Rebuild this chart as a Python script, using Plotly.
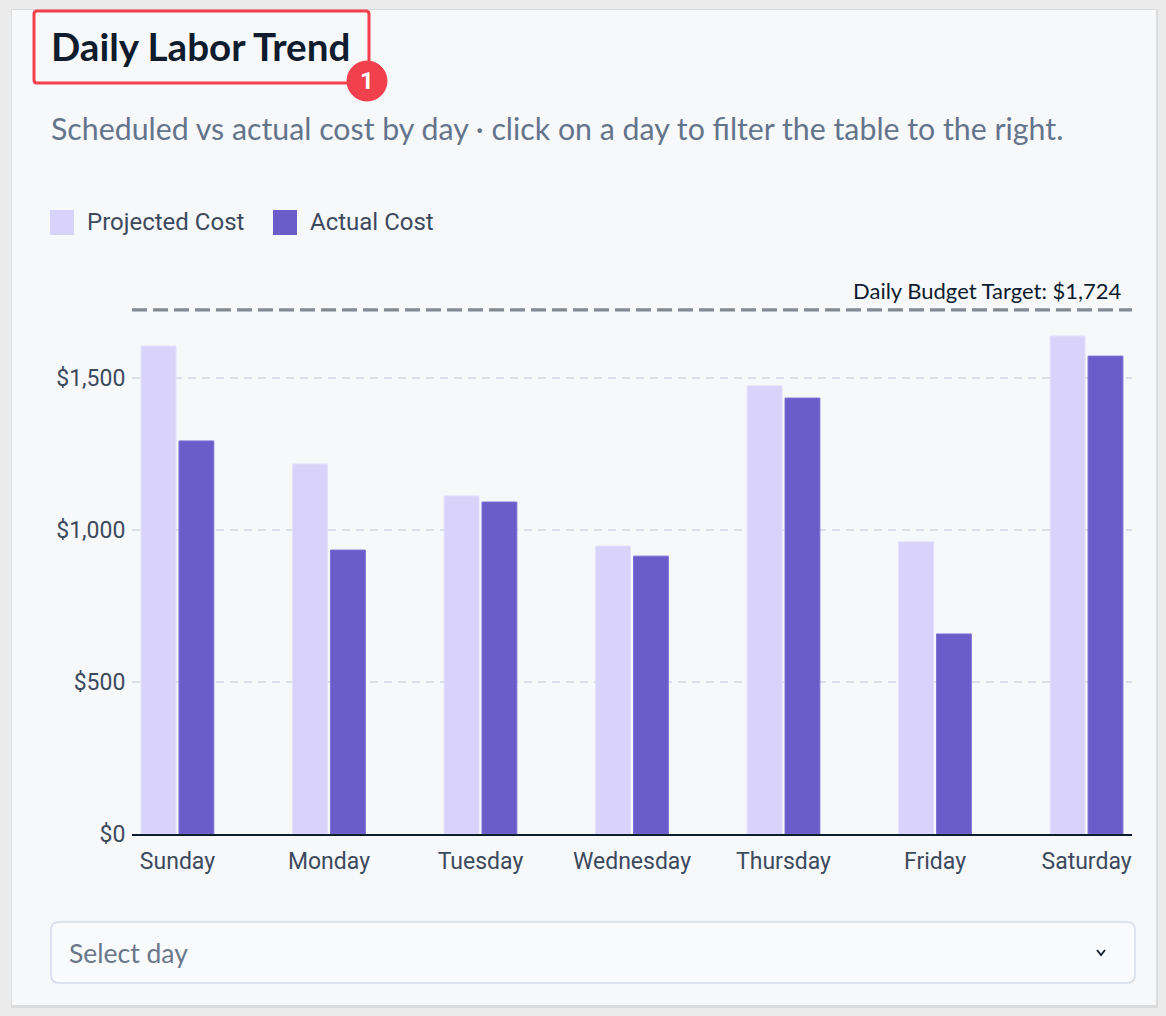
import plotly.graph_objects as go

# ---- data ----
days = ["Sunday", "Monday", "Tuesday", "Wednesday", "Thursday", "Friday", "Saturday"]
projected_cost = [1605, 1217, 1112, 947, 1474, 961, 1638]
actual_cost = [1293, 934, 1092, 914, 1434, 658, 1572]
budget_target = 1724
y_ticks = [0, 500, 1000, 1500]

# ---- page geometry (pixels) ----
FIG_W, FIG_H = 1166, 1016
PLOT_L, PLOT_R = 132, 1132
PLOT_T, PLOT_B = 272, 834
PW, PH = PLOT_R - PLOT_L, PLOT_B - PLOT_T

PROJ_COLOR = "#d9d2fb"
ACT_COLOR = "#6c5cc9"
TEXT_DARK = "#0f1c2e"
TEXT_MUTED = "#64748b"
TICK_COLOR = "#3d4a5e"


def px(x):
    return (x - PLOT_L) / PW


def py(y):
    return (PLOT_B - y) / PH


def rounded_rect(x0, y0, x1, y1, r):
    """SVG path (paper coords) for a rounded rectangle given in pixels."""
    pts = [
        ("M", [(x0 + r, y0)]),
        ("L", [(x1 - r, y0)]),
        ("Q", [(x1, y0), (x1, y0 + r)]),
        ("L", [(x1, y1 - r)]),
        ("Q", [(x1, y1), (x1 - r, y1)]),
        ("L", [(x0 + r, y1)]),
        ("Q", [(x0, y1), (x0, y1 - r)]),
        ("L", [(x0, y0 + r)]),
        ("Q", [(x0, y0), (x0 + r, y0)]),
    ]
    out = ""
    for cmd, coords in pts:
        out += cmd + " " + " ".join(f"{px(a):.5f},{py(b):.5f}" for a, b in coords) + " "
    return out + "Z"


fig = go.Figure()

fig.add_trace(go.Bar(
    x=days, y=projected_cost, name="Projected Cost",
    marker=dict(color=PROJ_COLOR, line=dict(color="#e4defc", width=1)),
    showlegend=False,
))
fig.add_trace(go.Bar(
    x=days, y=actual_cost, name="Actual Cost",
    marker=dict(color=ACT_COLOR, line=dict(color="#7d6fd6", width=1)),
    showlegend=False,
))

shapes = []
# page shadow + card
shapes.append(dict(type="rect", xref="paper", yref="paper", layer="below",
                   x0=px(11), x1=px(1158), y0=py(1008), y1=py(9),
                   fillcolor="#dcdcdc", line=dict(width=0)))
shapes.append(dict(type="rect", xref="paper", yref="paper", layer="below",
                   x0=px(12), x1=px(1156), y0=py(1005), y1=py(10),
                   fillcolor="#f7f8fa", line=dict(width=0)))

# budget target line
shapes.append(dict(type="line", xref="paper", yref="y", x0=0, x1=1,
                   y0=budget_target, y1=budget_target,
                   line=dict(color="#838a94", width=3.2, dash="15px,6px")))

# highlight box around the title + badge
shapes.append(dict(type="path", xref="paper", yref="paper",
                   path=rounded_rect(34, 11, 369, 83, 3),
                   line=dict(color="#f2404d", width=3)))
shapes.append(dict(type="circle", xref="paper", yref="paper",
                   x0=px(347), x1=px(387), y0=py(101), y1=py(61),
                   fillcolor="#f2404d", line=dict(color="#f2404d", width=1)))

# manual legend swatches
shapes.append(dict(type="rect", xref="paper", yref="paper",
                   x0=px(50), x1=px(74), y0=py(235), y1=py(210),
                   fillcolor=PROJ_COLOR, line=dict(width=0)))
shapes.append(dict(type="rect", xref="paper", yref="paper",
                   x0=px(273), x1=px(297), y0=py(235), y1=py(210),
                   fillcolor=ACT_COLOR, line=dict(width=0)))

# select dropdown
shapes.append(dict(type="path", xref="paper", yref="paper",
                   path=rounded_rect(51, 922, 1135, 983, 8),
                   fillcolor="#f8fafc", line=dict(color="#d5dbe8", width=1.5)))
shapes.append(dict(type="path", xref="paper", yref="paper",
                   path=f"M {px(1097):.5f},{py(950):.5f} L {px(1101):.5f},{py(955):.5f} L {px(1105):.5f},{py(950):.5f}",
                   line=dict(color=TEXT_DARK, width=1.8)))

annotations = [
    dict(text="<b>Daily Labor Trend</b>", x=px(49), y=py(46), xref="paper", yref="paper",
         xanchor="left", yanchor="middle", showarrow=False,
         font=dict(family="Lato", size=38.6, color=TEXT_DARK)),
    dict(text="1", x=px(367), y=py(81), xref="paper", yref="paper",
         xanchor="center", yanchor="middle", showarrow=False,
         font=dict(family="Roboto", size=24, color="white", weight="bold")),
    dict(text="Scheduled vs actual cost by day · click on a day to filter the table to the right.",
         x=px(49), y=py(128), xref="paper", yref="paper",
         xanchor="left", yanchor="middle", showarrow=False,
         font=dict(family="Lato", size=30.3, color=TEXT_MUTED)),
    dict(text="Projected Cost", x=px(85), y=py(222), xref="paper", yref="paper",
         xanchor="left", yanchor="middle", showarrow=False,
         font=dict(family="Roboto", size=24, color=TICK_COLOR)),
    dict(text="Actual Cost", x=px(308), y=py(222), xref="paper", yref="paper",
         xanchor="left", yanchor="middle", showarrow=False,
         font=dict(family="Roboto", size=24, color=TICK_COLOR)),
    dict(text=f"Daily Budget Target: ${budget_target:,}", x=px(1124), y=budget_target,
         xref="paper", yref="y", xanchor="right", yanchor="bottom", yshift=4,
         showarrow=False, font=dict(family="Lato", size=22, color=TEXT_DARK)),
    dict(text="Select day", x=px(67), y=py(953), xref="paper", yref="paper",
         xanchor="left", yanchor="middle", showarrow=False,
         font=dict(family="Lato", size=26.5, color="#6b778a")),
]

fig.update_layout(
    width=FIG_W, height=FIG_H,
    margin=dict(l=PLOT_L, r=FIG_W - PLOT_R, t=PLOT_T, b=FIG_H - PLOT_B, pad=0),
    paper_bgcolor="#ebebeb",
    plot_bgcolor="rgba(0,0,0,0)",
    barmode="group",
    bargap=0.5,
    bargroupgap=0.08,
    showlegend=False,
    shapes=shapes,
    annotations=annotations,
    font=dict(family="Roboto", color=TICK_COLOR),
    xaxis=dict(
        type="category", range=[-0.3, 6.3],
        showline=True, linecolor=TEXT_DARK, linewidth=2,
        showgrid=False, zeroline=False,
        ticks="outside", ticklen=5, tickcolor="rgba(0,0,0,0)",
        tickfont=dict(family="Roboto", size=23, color=TICK_COLOR),
    ),
    yaxis=dict(
        range=[0, PH / 0.304], tickvals=y_ticks,
        ticktext=[f"${v:,}" for v in y_ticks],
        showline=False, zeroline=False,
        showgrid=True, gridcolor="#dadeee", gridwidth=1.5, griddash="8px,6px",
        ticks="outside", ticklen=1, tickcolor="rgba(0,0,0,0)",
        tickfont=dict(family="Roboto", size=23, color=TICK_COLOR),
    ),
)

fig.write_html("out.html", config={"displayModeBar": False},
               post_script="document.body.style.margin='0';")
